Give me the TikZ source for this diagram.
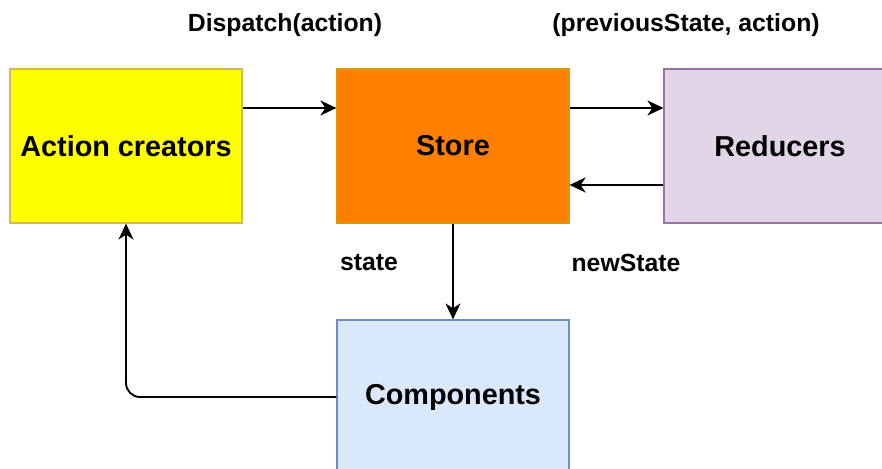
\documentclass[tikz,border=0pt]{standalone}
\usepackage{fontspec}
\setmainfont{Liberation Sans}
\usetikzlibrary{arrows.meta}
\definecolor{ycol}{HTML}{FFFF00}
\definecolor{ybd}{HTML}{D6B656}
\definecolor{ocol}{HTML}{FF8000}
\definecolor{obd}{HTML}{D79B00}
\definecolor{pcol}{HTML}{E1D5E7}
\definecolor{pbd}{HTML}{9673A6}
\definecolor{bcol}{HTML}{DAE8FC}
\definecolor{bbd}{HTML}{6C8EBF}
\tikzset{
  boxnode/.style={rectangle, minimum width=232pt, minimum height=154pt, line width=1.2pt, inner sep=0pt,
    font=\fontsize{28.8}{34}\selectfont\bfseries},
  lbl/.style={font=\fontsize{24.8}{29}\selectfont\bfseries, inner sep=0pt},
  arr/.style={line width=1.9pt, -{Stealth[length=16pt,width=15pt,inset=5pt]}}
}
\begin{document}
\begin{tikzpicture}[x=1pt,y=-1pt]
\useasboundingbox (0,0) rectangle (882,468);
\clip (0,0) rectangle (882,468);
\node[boxnode, fill=ycol, draw=ybd] (ac) at (126,146) {Action creators};
\node[boxnode, fill=ocol, draw=obd] (store) at (453,146) {Store};
\node[boxnode, fill=pcol, draw=pbd] (red) at (780,146) {Reducers};
\node[boxnode, fill=bcol, draw=bbd] (comp) at (453,397) {Components};
\node[lbl] (l1) at (285,25) {Dispatch(action)};
\node[lbl] (l2) at (686,25) {(previousState, action)};
\node[lbl] (l3) at (369,263) {state};
\node[lbl] (l4) at (626,263) {newState};
\draw[arr] (ac.east |- 0,108) -- (store.west |- 0,108);
\draw[arr] (store.east |- 0,108) -- (red.west |- 0,108);
\draw[arr] (red.west |- 0,185) -- (store.east |- 0,185);
\draw[arr] (store.south) -- (comp.north);
\draw[arr, rounded corners=14pt] (comp.west) -| (ac.south);
\end{tikzpicture}
\end{document}
